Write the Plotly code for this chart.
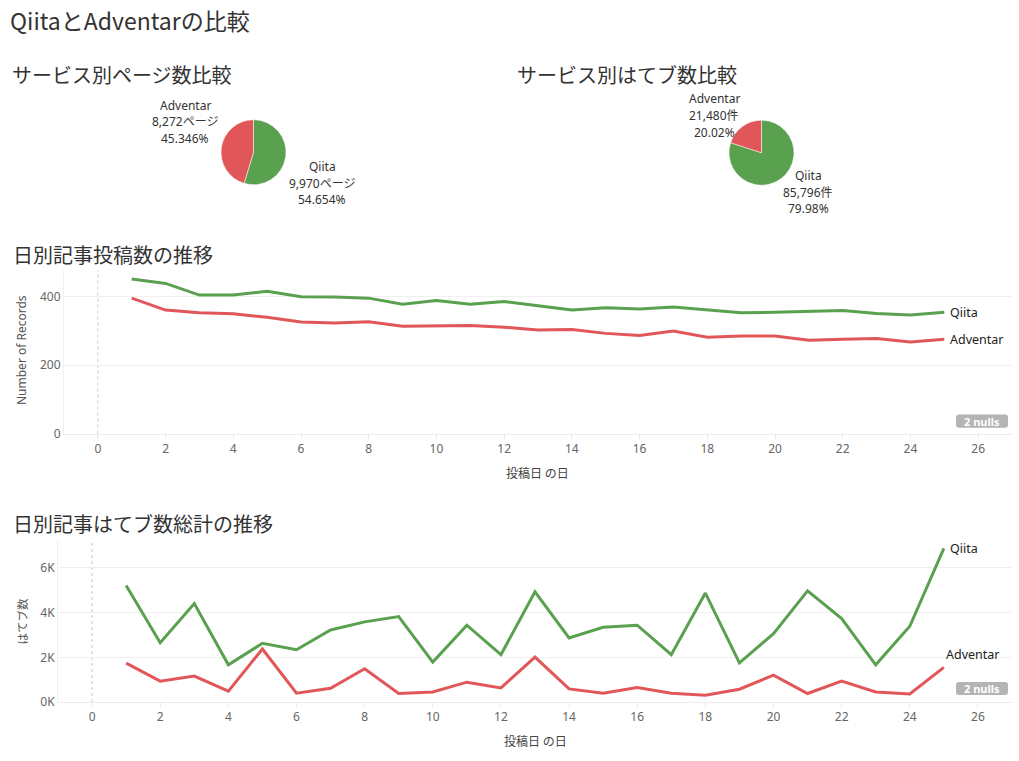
import plotly.graph_objects as go

W, H = 1019, 761
SY = 0.988  # observed vertical squeeze of the photographed page

# ---- data ----
services = ["Qiita", "Adventar"]
pages = [9970, 8272]
hatebu_totals = [85796, 21480]

days = list(range(1, 26))
qiita_records = [452, 439, 405, 405, 416, 400, 399, 396, 378, 389, 378, 386, 374,
                 361, 368, 364, 370, 362, 353, 355, 358, 360, 351, 347, 355]
adventar_records = [396, 361, 353, 350, 340, 326, 323, 327, 314, 314, 316, 311, 303,
                    304, 293, 287, 300, 282, 285, 285, 273, 276, 278, 268, 276]
qiita_hatebu = [5218, 2656, 4409, 1667, 2629, 2342, 3227, 3587, 3825, 1789, 3438, 2117, 4935,
                2867, 3348, 3438, 2117, 4876, 1757, 3061, 4980, 3735, 1667, 3393, 6881]
adventar_hatebu = [1744, 935, 1160, 485, 2373, 396, 620, 1488, 382, 454, 890, 634, 2013,
                   589, 396, 652, 396, 306, 575, 1204, 382, 935, 454, 364, 1551]
x_ticks = list(range(0, 27, 2))
y1_ticks = [0, 200, 400]
y2_ticks = [0, 2000, 4000, 6000]
y2_ticktext = ["0K", "2K", "4K", "6K"]
null_note = "2 nulls"

GREEN = "#59a14f"
RED = "#e15759"
FONT = "Noto Sans, Noto Sans CJK JP, sans-serif"
JFONT = "Noto Sans CJK JP, Noto Sans, sans-serif"


def px(x):
    return x / W


def py(y):
    return 1 - (y / SY) / H


fig = go.Figure()

# ---- pies ----
def add_pie(vals, cx, cy, r):
    fig.add_trace(go.Pie(
        labels=services, values=vals, sort=False, direction="clockwise", rotation=0,
        marker=dict(colors=[GREEN, RED], line=dict(color="white", width=0.5)),
        textinfo="none", hoverinfo="label+value+percent", showlegend=False,
        domain=dict(x=[px(cx - r), px(cx + r)], y=[py(cy + r), py(cy - r)]),
    ))

add_pie(pages, 253.5, 152, 32.5)
add_pie(hatebu_totals, 761.5, 152.5, 32.5)

annotations = []


def label(text, x, y, size=12, color="#333333", xanchor="center", yanchor="middle", family=JFONT, **kw):
    annotations.append(dict(text=text, x=px(x), y=py(y), xref="paper", yref="paper",
                            showarrow=False, xanchor=xanchor, yanchor=yanchor,
                            font=dict(size=size, color=color, family=family), **kw))


def stacked(lines, x, y_first, step=16.8):
    for i, t in enumerate(lines):
        label(t, x, y_first + i * step, size=12, color="#333333", family=FONT)


tot1 = sum(pages)
tot2 = sum(hatebu_totals)
# pie 1 labels
stacked([services[1], f"{pages[1]:,}ページ", f"{pages[1]/tot1*100:.3f}%"], 185, 105)
stacked([services[0], f"{pages[0]:,}ページ", f"{pages[0]/tot1*100:.3f}%"], 322, 166)
# pie 2 labels
stacked([services[1], f"{hatebu_totals[1]:,}件", f"{hatebu_totals[1]/tot2*100:.2f}%"], 714, 98.5)
stacked([services[0], f"{hatebu_totals[0]:,}件", f"{hatebu_totals[0]/tot2*100:.2f}%"], 808, 175)

# titles
label("QiitaとAdventarの比較", 8, 20, size=23, xanchor="left")
label("サービス別ページ数比較", 10, 74, size=20, xanchor="left")
label("サービス別はてブ数比較", 515, 74, size=20, xanchor="left")
label("日別記事投稿数の推移", 11, 254, size=20, xanchor="left")
label("日別記事はてブ数総計の推移", 11, 523, size=20, xanchor="left")

# axis titles
label("Number of Records", 21.5, 350, size=12, color="#555555", textangle=-90, family=FONT)
label("はてブ数", 21.5, 620, size=11.5, color="#555555", textangle=-90)
label("投稿日 の日", 537, 472, size=12, color="#444444")
label("投稿日 の日", 535, 739, size=12, color="#444444")

# ---- line charts ----
fig.add_trace(go.Scatter(x=days, y=qiita_records, mode="lines", line=dict(color=GREEN, width=3),
                         name="Qiita", showlegend=False, xaxis="x", yaxis="y"))
fig.add_trace(go.Scatter(x=days, y=adventar_records, mode="lines", line=dict(color=RED, width=3),
                         name="Adventar", showlegend=False, xaxis="x", yaxis="y"))
fig.add_trace(go.Scatter(x=days, y=qiita_hatebu, mode="lines", line=dict(color=GREEN, width=3),
                         name="Qiita", showlegend=False, xaxis="x2", yaxis="y2"))
fig.add_trace(go.Scatter(x=days, y=adventar_hatebu, mode="lines", line=dict(color=RED, width=3),
                         name="Adventar", showlegend=False, xaxis="x2", yaxis="y2"))

# end labels
for xr, yr, yvals, name, xs, ys in [
    ("x", "y", qiita_records, "Qiita", 4, 0),
    ("x", "y", adventar_records, "Adventar", 4, 0),
    ("x2", "y2", qiita_hatebu, "Qiita", 4, 0),
    ("x2", "y2", adventar_hatebu, "Adventar", 0, 13),
]:
    annotations.append(dict(text=name, x=days[-1], y=yvals[-1], xref=xr, yref=yr, showarrow=False,
                            xanchor="left", yanchor="middle", xshift=xs, yshift=ys,
                            font=dict(size=12.5, color="#222222", family=FONT)))


def rounded_rect(x0, y0, x1, y1, r):
    X = lambda v: px(v)
    Y = lambda v: py(v)
    return (f"M {X(x0 + r)} {Y(y0)} L {X(x1 - r)} {Y(y0)} Q {X(x1)} {Y(y0)} {X(x1)} {Y(y0 + r)} "
            f"L {X(x1)} {Y(y1 - r)} Q {X(x1)} {Y(y1)} {X(x1 - r)} {Y(y1)} "
            f"L {X(x0 + r)} {Y(y1)} Q {X(x0)} {Y(y1)} {X(x0)} {Y(y1 - r)} "
            f"L {X(x0)} {Y(y0 + r)} Q {X(x0)} {Y(y0)} {X(x0 + r)} {Y(y0)} Z")


# nulls badges
for yc in (420.5, 687.5):
    fig.add_shape(type="path", path=rounded_rect(956, yc - 6.5, 1008, yc + 6.5, 3),
                  xref="paper", yref="paper", fillcolor="#b4b4b4", line=dict(width=0), layer="above")
    label(f"<b>{null_note}</b>", 982, yc, size=11, color="white", family=FONT)

# dotted zero lines
for xr, yr in (("x", "y domain"), ("x2", "y2 domain")):
    fig.add_shape(type="line", x0=0, x1=0, y0=0, y1=1, xref=xr, yref=yr,
                  line=dict(color="#c8c8c8", width=1, dash="dot"), layer="below")

axis_common = dict(showgrid=False, zeroline=False, showline=True, linecolor="#ececec", linewidth=1,
                   ticks="outside", ticklen=4, tickcolor="#e6e6e6",
                   tickfont=dict(size=12, color="#666666", family=FONT), fixedrange=True)
yaxis_common = dict(showgrid=True, gridcolor="#f0f0f0", gridwidth=1, zeroline=False, showline=True,
                    linecolor="#f0f0f0", ticks="", tickfont=dict(size=12, color="#666666", family=FONT),
                    fixedrange=True)

fig.update_layout(
    width=W, height=H, margin=dict(l=0, r=0, t=0, b=0),
    paper_bgcolor="white", plot_bgcolor="white",
    font=dict(family=FONT),
    xaxis=dict(domain=[px(64), px(1012)], range=[-1, 27], tickvals=x_ticks, anchor="y", **axis_common),
    yaxis=dict(domain=[py(433), py(270)], range=[0, 477], tickvals=y1_ticks, anchor="x", **yaxis_common),
    xaxis2=dict(domain=[px(58), px(1012)], range=[-1, 27], tickvals=x_ticks, anchor="y2", **axis_common),
    yaxis2=dict(domain=[py(701), py(539)], range=[0, 7260], tickvals=y2_ticks, ticktext=y2_ticktext,
                anchor="x2", **yaxis_common),
    annotations=annotations,
)

fig.write_html("out.html")
